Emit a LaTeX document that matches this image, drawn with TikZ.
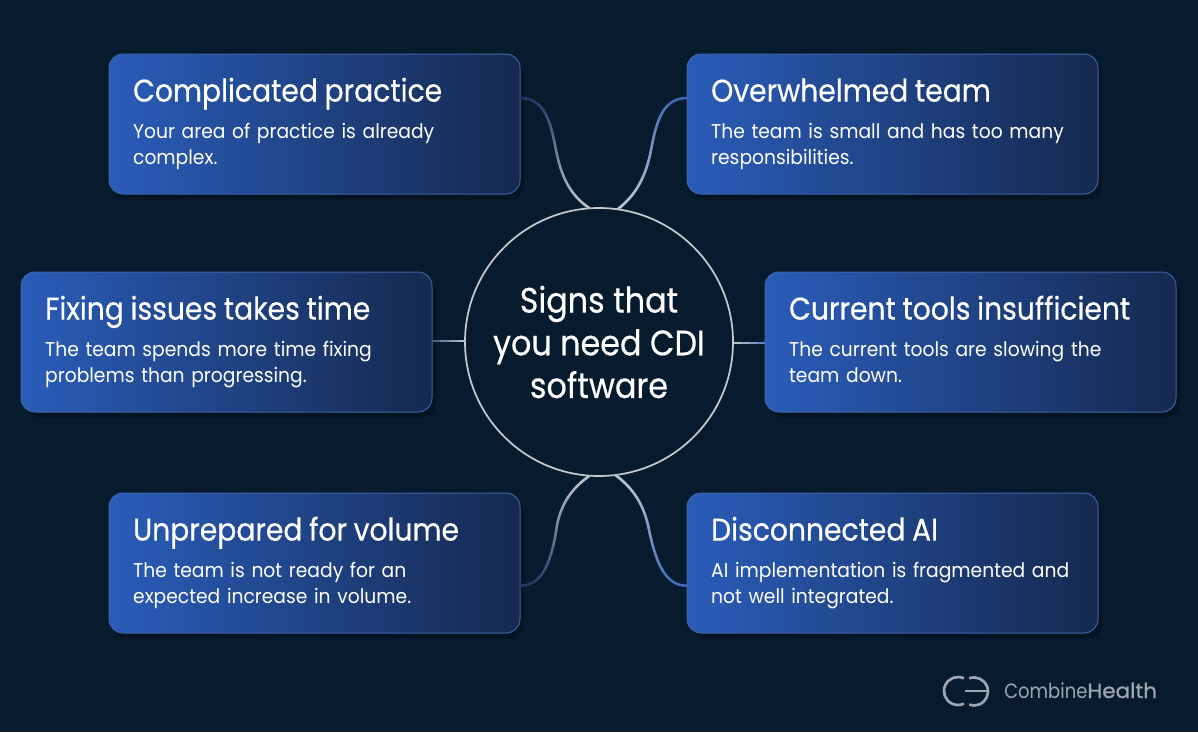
\documentclass[tikz,border=0pt]{standalone}
\usepackage{fontspec}
\setmainfont[FakeStretch=0.935]{Poppins}
\newfontfamily\titlefont[FakeStretch=0.9,FakeBold=0.35]{Poppins}
\newfontfamily\brandfont[FakeStretch=0.87]{Poppins}
\newfontfamily\brandheavy[FakeStretch=1.04,FakeBold=0.7]{Poppins}
\usetikzlibrary{calc,fadings,shadows}
\definecolor{bgnavy}{HTML}{071B2E}
\definecolor{boxleft}{HTML}{2A5DB9}
\definecolor{boxright}{HTML}{14294F}
\definecolor{boxedge}{HTML}{3F63A8}
\definecolor{ringgrey}{HTML}{C4C9CC}
\definecolor{linkbright}{HTML}{3E68B8}
\definecolor{linkdark}{HTML}{1F3563}
\definecolor{logogrey}{HTML}{9EA7B1}
\tikzfading[name=fadelink,bottom color=transparent!100,top color=transparent!0]
\tikzfading[name=fadelinkup,top color=transparent!100,bottom color=transparent!0]
\tikzset{
	signbox/.style={draw=boxedge, line width=0.75pt, rounded corners=10.5pt, left color=boxleft, right color=boxright,
		minimum width=308.25pt, minimum height=105pt, text width=272pt, align=left, text=white, inner sep=0pt, outer sep=0pt,
		font=\fontsize{15}{19.5}\selectfont,
		drop shadow={shadow xshift=3pt, shadow yshift=-4pt, opacity=0.25, fill=black}},
	hub/.style={circle, draw=ringgrey, line width=1.3pt, minimum size=201pt, inner sep=0pt, outer sep=0pt, align=center, text=white,
		font=\titlefont\fontsize{26.5}{32}\selectfont},
	link/.style={line width=1.9pt}
}
\newcommand{\signtext}[3]{{\titlefont\fontsize{23.5}{28}\selectfont\strut #1}\\[7pt]#2\\#3\strut}
\begin{document}
\begin{tikzpicture}[x=0.75pt,y=-0.75pt]
	\useasboundingbox[fill=bgnavy] (0,0) rectangle (1198,732);
	% boxes
	\node [signbox] (practice) at (314.5,124) {\signtext{Complicated practice}{Your area of practice is already}{complex.}};
	\node [signbox] (team) at (892.5,124) {\signtext{Overwhelmed team}{The team is small and has too many}{responsibilities.}};
	\node [signbox] (fixing) at (226.5,342) {\signtext{Fixing issues takes time}{The team spends more time fixing}{problems than progressing.}};
	\node [signbox] (tools) at (970.5,342) {\signtext{Current tools insufficient}{The current tools are slowing the}{team down.}};
	\node [signbox] (volume) at (314.5,563) {\signtext{Unprepared for volume}{The team is not ready for an}{expected increase in volume.}};
	\node [signbox] (ai) at (892.5,563) {\signtext{Disconnected AI}{AI implementation is fragmented and}{not well integrated.}};
	% centre
	\node [hub] (signs) at (599,342) {Signs that\\you need CDI\\software};
	% curved links
	\coordinate (practiceout) at ([yshift=19.5pt]practice.east);
	\coordinate (teamout) at ([yshift=19.5pt]team.west);
	\coordinate (volumeout) at ([yshift=-17pt]volume.east);
	\coordinate (aiout) at ([yshift=-17pt]ai.west);
	\draw [link, linkdark] (practiceout) .. controls (546,98) and (551,125) .. (556,150) .. controls (562,182) and (574,198) .. (signs.94);
	\draw [link, ringgrey, path fading=fadelinkup] (practiceout) .. controls (546,98) and (551,125) .. (556,150) .. controls (562,182) and (574,198) .. (signs.94);
	\draw [link, linkbright] (teamout) .. controls (661,98) and (656,125) .. (651,150) .. controls (645,182) and (632,198) .. (signs.82);
	\draw [link, ringgrey, path fading=fadelinkup] (teamout) .. controls (661,98) and (656,125) .. (651,150) .. controls (645,182) and (632,198) .. (signs.82);
	\draw [link, linkdark] (volumeout) .. controls (543,586) and (552,560) .. (557,525) .. controls (562,500) and (575,486) .. (signs.266);
	\draw [link, ringgrey, path fading=fadelink] (volumeout) .. controls (543,586) and (552,560) .. (557,525) .. controls (562,500) and (575,486) .. (signs.266);
	\draw [link, linkbright] (aiout) .. controls (664,586) and (655,560) .. (648,525) .. controls (642,500) and (630,486) .. (signs.277);
	\draw [link, ringgrey, path fading=fadelink] (aiout) .. controls (664,586) and (655,560) .. (648,525) .. controls (642,500) and (630,486) .. (signs.277);
	% straight links
	\coordinate (fixingout) at ([yshift=0.75pt]fixing.east);
	\coordinate (signsleft) at (signs.west |- fixingout);
	\coordinate (toolsout) at ([yshift=-0.75pt]tools.west);
	\coordinate (signsright) at (signs.east |- toolsout);
	\foreach \t/\c in {0/30,0.25/50,0.5/70,0.75/90}
		\draw [link, line width=2.2pt, ringgrey!\c!linkdark] ($(fixingout)!\t!(signsleft)$) -- ($(fixingout)!\t+0.25!(signsleft)$);
	\foreach \t/\c in {0/90,0.25/70,0.5/50,0.75/30}
		\draw [link, line width=2.2pt, ringgrey!\c!linkbright] ($(signsright)!\t!(toolsout)$) -- ($(signsright)!\t+0.25!(toolsout)$);
	% logo
	\draw [logogrey, line width=2pt] (963.9,678.3) arc (-65:-295:14);
	\draw [logogrey, line width=2pt] (969.2,678.3) arc (-110:110:14);
	\draw [logogrey, line width=2pt] (965,691) -- (987,691);
	\node [anchor=base west, text=logogrey, inner sep=0pt, font=\fontsize{15.5}{18}\selectfont] (brand) at (1004,698) {\brandfont Combine\brandheavy Health};
\end{tikzpicture}
\end{document}
